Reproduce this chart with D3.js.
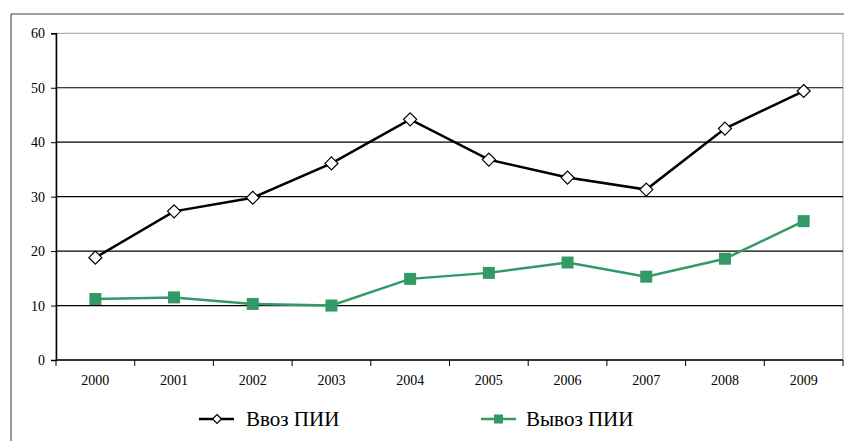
<!DOCTYPE html>
<html><head><meta charset="utf-8">
<script src="https://cdn.jsdelivr.net/npm/d3@7"></script>
</head><body style="margin:0">
<script>
const years = ["2000","2001","2002","2003","2004","2005","2006","2007","2008","2009"];
const importFDI = [18.8, 27.3, 29.8, 36.1, 44.2, 36.8, 33.5, 31.3, 42.5, 49.4];
const exportFDI = [11.2, 11.5, 10.3, 10.0, 14.9, 16.0, 17.9, 15.3, 18.6, 25.5];
const yTicks = [0, 10, 20, 30, 40, 50, 60];
const seriesNames = ["Ввоз ПИИ", "Вывоз ПИИ"];

(function () {
const W = 844, H = 441;
const FONT = '"Liberation Serif"';
const svg = d3.select("body").append("svg").attr("width", W).attr("height", H)
  .style("display", "block").style("font-family", FONT);

// outer frame
svg.append("line").attr("x1", 11).attr("x2", W).attr("y1", 14).attr("y2", 14).attr("stroke", "#808080").attr("stroke-width", 1.5);
svg.append("line").attr("x1", 11).attr("x2", 11).attr("y1", 14).attr("y2", H).attr("stroke", "#333").attr("stroke-width", 1);

const pLeft = 56, pRight = 843, pTop = 33.3, pBottom = 360;
const x = d3.scaleBand().domain(years).range([pLeft, pRight]);
const y = d3.scaleLinear().domain([0, 60]).range([pBottom, pTop]);

// plot border
svg.append("rect").attr("x", pLeft).attr("y", pTop).attr("width", pRight - pLeft).attr("height", pBottom - pTop)
  .attr("fill", "none").attr("stroke", "#a0a0a0").attr("stroke-width", 1);

// gridlines
svg.append("g").selectAll("line").data(yTicks.filter(d => d > 0 && d < 60)).join("line")
  .attr("x1", pLeft).attr("x2", pRight).attr("y1", d => y(d)).attr("y2", d => y(d))
  .attr("stroke", "#000").attr("stroke-width", 1.2);

// y axis
const yAxis = svg.append("g").attr("transform", `translate(${pLeft},0)`)
  .call(d3.axisLeft(y).tickValues(yTicks).tickSize(5).tickPadding(6));
yAxis.attr("font-family", FONT).attr("font-size", 14);
yAxis.select(".domain").attr("stroke", "#000").attr("stroke-width", 1.5);
yAxis.selectAll("text").attr("font-size", 14).style("font-family", FONT).attr("fill", "#000");

// x axis with ticks between categories
const xAxis = svg.append("g").attr("transform", `translate(0,${pBottom})`);
xAxis.append("line").attr("x1", pLeft).attr("x2", pRight).attr("y1", 0).attr("y2", 0).attr("stroke", "#000").attr("stroke-width", 1.5);
const bounds = years.map(d => x(d)).concat([pRight]);
xAxis.selectAll("line.tk").data(bounds).join("line").attr("class", "tk")
  .attr("x1", d => d).attr("x2", d => d).attr("y1", 0).attr("y2", 6).attr("stroke", "#000").attr("stroke-width", 1);
xAxis.selectAll("text").data(years).join("text")
  .attr("x", d => x(d) + x.bandwidth() / 2).attr("y", 25)
  .attr("text-anchor", "middle").attr("font-size", 14).style("font-family", FONT).text(d => d);

const cx = (d, i) => x(years[i]) + x.bandwidth() / 2;
const line = d3.line().x(cx).y(d => y(d));
const green = "#339966";

// export series
svg.append("path").datum(exportFDI).attr("d", line).attr("fill", "none").attr("stroke", green).attr("stroke-width", 2.5);
svg.append("g").selectAll("rect").data(exportFDI).join("rect")
  .attr("x", (d, i) => cx(d, i) - 6).attr("y", d => y(d) - 6).attr("width", 12).attr("height", 12)
  .attr("fill", green);

// import series
svg.append("path").datum(importFDI).attr("d", line).attr("fill", "none").attr("stroke", "#000").attr("stroke-width", 2.5);
const diamond = s => `M0,${-s}L${s},0L0,${s}L${-s},0Z`;
svg.append("g").selectAll("path").data(importFDI).join("path")
  .attr("d", diamond(6.5)).attr("transform", (d, i) => `translate(${cx(d, i)},${y(d)})`)
  .attr("fill", "#fff").attr("stroke", "#000").attr("stroke-width", 1.2);

// legend
const ly = 419;
const lg1 = svg.append("g");
lg1.append("line").attr("x1", 199).attr("x2", 234).attr("y1", ly).attr("y2", ly).attr("stroke", "#000").attr("stroke-width", 2.5);
lg1.append("path").attr("d", diamond(4.5)).attr("transform", `translate(217,${ly})`).attr("fill", "#fff").attr("stroke", "#000").attr("stroke-width", 1.2);
lg1.append("text").attr("x", 246).attr("y", ly + 7).attr("font-size", 21).style("font-family", FONT).text(seriesNames[0]);

const lg2 = svg.append("g");
lg2.append("line").attr("x1", 481).attr("x2", 516).attr("y1", ly).attr("y2", ly).attr("stroke", green).attr("stroke-width", 2.5);
lg2.append("rect").attr("x", 494).attr("y", ly - 4.5).attr("width", 9).attr("height", 9).attr("fill", green);
lg2.append("text").attr("x", 526).attr("y", ly + 7).attr("font-size", 21).style("font-family", FONT).text(seriesNames[1]);
})();
</script>
</body></html>
